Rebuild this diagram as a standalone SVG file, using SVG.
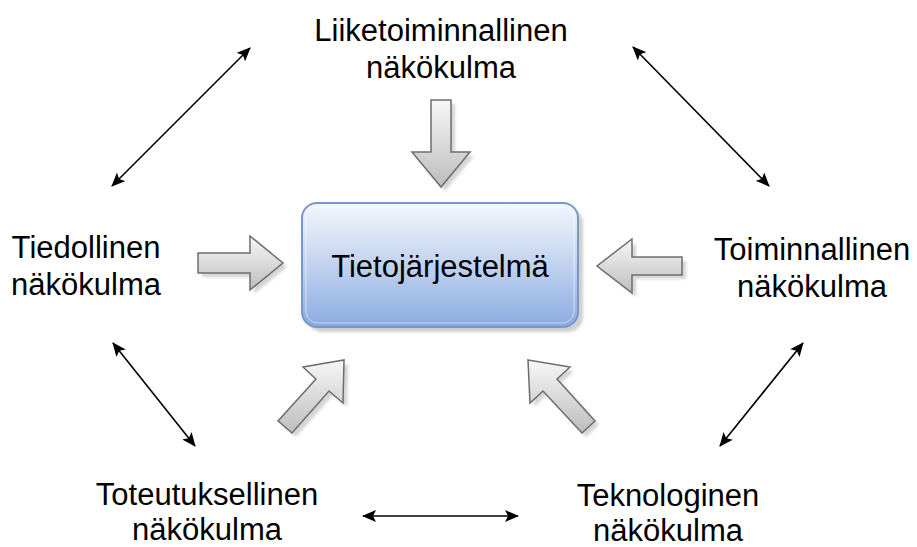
<svg xmlns="http://www.w3.org/2000/svg" width="917" height="547" viewBox="0 0 917 547">
  <style>
    .lbl { font-family: "Liberation Sans", Arial, sans-serif; font-size: 31px; fill: #000; text-anchor: middle; }
    .blk { fill: url(#blockGrad); stroke: #6e6e6e; stroke-width: 1.5; stroke-linejoin: miter; }
    .blkShadow { fill: #d4d4d4; filter: url(#soft); }
    .link { stroke: #000; stroke-width: 1.6; fill: none; marker-start: url(#head); marker-end: url(#head); }
  </style>
  <defs>
    <linearGradient id="blockGrad" x1="0" y1="0" x2="0" y2="1">
      <stop offset="0" stop-color="#f7f7f7"/>
      <stop offset="1" stop-color="#bdbdbd"/>
    </linearGradient>
    <linearGradient id="boxGrad" x1="0" y1="0" x2="0" y2="1">
      <stop offset="0" stop-color="#f3f6fc"/>
      <stop offset="0.45" stop-color="#c6d6f0"/>
      <stop offset="1" stop-color="#8aabe0"/>
    </linearGradient>
    <filter id="soft" x="-20%" y="-20%" width="140%" height="140%">
      <feGaussianBlur stdDeviation="1.5"/>
    </filter>
    <marker id="head" viewBox="0 0 14 12" refX="13" refY="6" markerWidth="14" markerHeight="12" markerUnits="userSpaceOnUse" orient="auto-start-reverse">
      <path d="M0,0 L14,6 L0,12 L3,6 z" fill="#000"/>
    </marker>
  </defs>

  <!-- central system node -->
  <g id="tietojarjestelma">
    <rect x="307" y="208" width="276" height="124" rx="15" fill="#cfcfcf" filter="url(#soft)"/>
    <rect x="302" y="203" width="276" height="124" rx="15" fill="url(#boxGrad)" stroke="#7898cc" stroke-width="2"/>
    <rect x="306" y="207" width="268" height="116" rx="12" fill="none" stroke="#ffffff" stroke-opacity="0.5" stroke-width="1"/>
    <text class="lbl" x="440" y="277">Tietojärjestelmä</text>
  </g>

  <!-- perspective nodes -->
  <g id="liiketoiminnallinen">
    <text class="lbl" x="441" y="41">Liiketoiminnallinen</text>
    <text class="lbl" x="441" y="78">näkökulma</text>
  </g>
  <g id="tiedollinen">
    <text class="lbl" x="86" y="258">Tiedollinen</text>
    <text class="lbl" x="86" y="295">näkökulma</text>
  </g>
  <g id="toiminnallinen">
    <text class="lbl" x="812" y="260">Toiminnallinen</text>
    <text class="lbl" x="812" y="297">näkökulma</text>
  </g>
  <g id="toteutuksellinen">
    <text class="lbl" x="207" y="505">Toteutuksellinen</text>
    <text class="lbl" x="207" y="540">näkökulma</text>
  </g>
  <g id="teknologinen">
    <text class="lbl" x="668" y="506">Teknologinen</text>
    <text class="lbl" x="668" y="541">näkökulma</text>
  </g>

  <!-- block arrows pointing into the system -->
  <g id="block-arrows">
    <g transform="translate(4,4)">
      <polygon class="blkShadow" points="431,100 451,100 451,152 470,152 441,187 412,152 431,152"/>
      <polygon class="blkShadow" points="198,253 250,253 250,236 283,263 250,290 250,273 198,273"/>
      <polygon class="blkShadow" points="682,257 632,257 632,239 597,266 632,293 632,275 682,275"/>
      <polygon class="blkShadow" points="344,360 343,403 329,391 292,433 278,421 316,379 303,367"/>
      <polygon class="blkShadow" points="528,360 570,367 557,379 595,421 582,433 543,391 530,403"/>
    </g>
    <polygon class="blk" points="431,100 451,100 451,152 470,152 441,187 412,152 431,152"/>
    <polygon class="blk" points="198,253 250,253 250,236 283,263 250,290 250,273 198,273"/>
    <polygon class="blk" points="682,257 632,257 632,239 597,266 632,293 632,275 682,275"/>
    <polygon class="blk" points="344,360 343,403 329,391 292,433 278,421 316,379 303,367"/>
    <polygon class="blk" points="528,360 570,367 557,379 595,421 582,433 543,391 530,403"/>
  </g>

  <!-- connectors between perspectives -->
  <g id="connectors">
    <line class="link" x1="112" y1="186" x2="250" y2="48"/>
    <line class="link" x1="633" y1="47" x2="769" y2="186"/>
    <line class="link" x1="113" y1="343" x2="195" y2="446"/>
    <line class="link" x1="803" y1="343" x2="720" y2="446"/>
    <line class="link" x1="363" y1="516" x2="518" y2="516"/>
  </g>
</svg>
